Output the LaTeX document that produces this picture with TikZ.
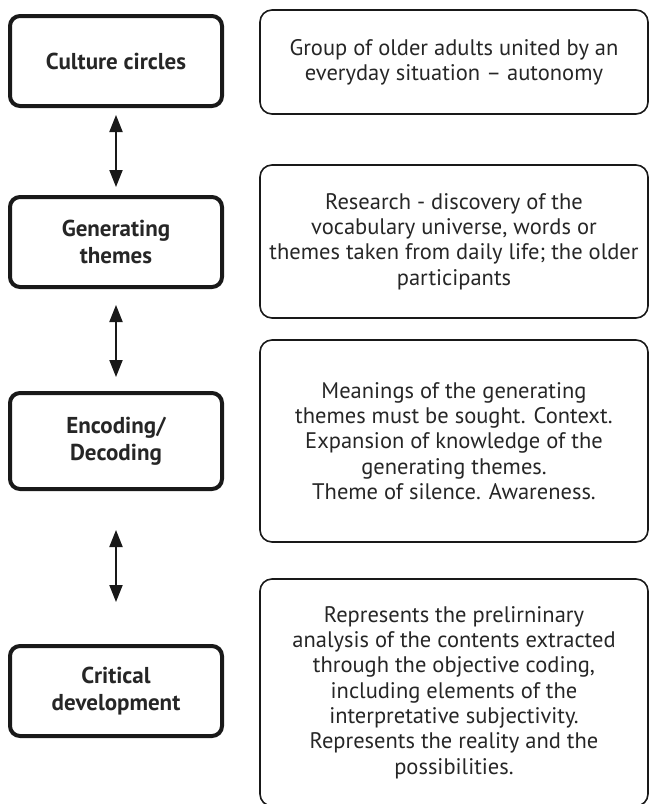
\documentclass[tikz,border=0pt]{standalone}
\usepackage{fontspec}
\setmainfont{PT Sans}
\usepackage{tikz}
\usetikzlibrary{arrows.meta}

\begin{document}
\begin{tikzpicture}[x=1pt, y=-1pt,
    stage/.style={draw=black!90, line width=4pt, rounded corners=10pt, align=center,
                  font=\fontsize{23}{27}\selectfont\bfseries, text=black!85, minimum width=212pt},
    info/.style={draw=black!90, line width=1.6pt, rounded corners=12pt, align=center,
                 font=\fontsize{22.5}{25.3}\selectfont, text=black!85, minimum width=388pt},
    arr/.style={{Triangle[length=17pt,width=13pt]}-{Triangle[length=17pt,width=13pt]},
                line width=2pt, black!90}]
  \useasboundingbox (0,0) rectangle (649,804);
  % left column
  \node[stage, minimum height=90pt] (cc) at (116,61)  {Culture circles};
  \node[stage, minimum height=90pt] (gt) at (116,242) {Generating\\ themes};
  \node[stage, minimum height=96pt] (ed) at (116,441) {Encoding/\\ Decoding};
  \node[stage, minimum height=90pt] (cd) at (116,691) {Critical\\ development};
  % right column
  \node[info, minimum height=104pt] (cc-txt) at (454,62)
    {Group of older adults united by an\\ everyday situation -- autonomy};
  \node[info, minimum height=153pt] (gt-txt) at (454,241.5)
    {Research - discovery of the\\ vocabulary universe, words or\\
     themes taken from daily life; the older\\ participants};
  \node[info, minimum height=202pt] (ed-txt) at (454,441)
    {Meanings of the generating\\ themes must be sought. Context.\\
     Expansion of knowledge of the\\ generating themes.\\ Theme of silence. Awareness.};
  \node[info, minimum height=227pt] (cd-txt) at (454,692.5)
    {Represents the prelirninary\\ analysis of the contents extracted\\
     through the objective coding,\\ including elements of the\\
     interpretative subjectivity.\\ Represents the reality and the\\ possibilities.};
  % arrows
  \draw[arr, shorten <=7pt, shorten >=8pt] (cc) -- (gt);
  \draw[arr, shorten <=16pt, shorten >=14pt] (gt) -- (ed);
  \draw[arr, shorten <=39pt, shorten >=42pt] (ed) -- (cd);
\end{tikzpicture}
\end{document}
